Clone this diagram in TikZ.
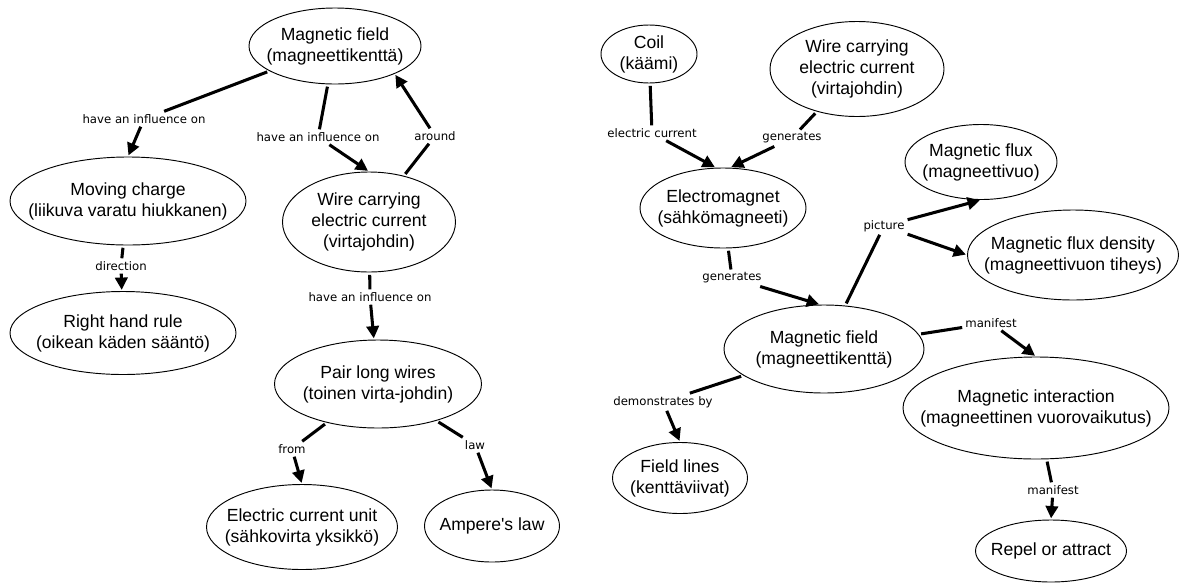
\documentclass[tikz,border=0pt]{standalone}
\usepackage{fontspec}
\setmainfont{Liberation Sans}
\newfontfamily\labelfont{DejaVu Sans}
\usetikzlibrary{shapes.geometric,arrows.meta}

\tikzset{
  concept/.style 2 args={draw, ellipse, line width=0.8pt, align=center,
    inner xsep=-30pt, inner ysep=-8pt, minimum width=#1, minimum height=#2,
    font=\fontsize{15}{18}\selectfont},
  lbl/.style={inner sep=2.5pt, font=\labelfont\fontsize{10}{12}\selectfont},
  link/.style={line width=2.6pt, shorten <=2pt},
  arr/.style={line width=2.6pt, -{Triangle[length=10.5pt,width=10.5pt]}, shorten >=1pt}
}

\begin{document}
\begin{tikzpicture}[x=0.03cm,y=-0.03cm]
  \useasboundingbox (0,0) rectangle (1180,583);
  % left map
  \node[concept={5.16cm}{2.28cm}] (mfA) at (335,46) {Magnetic field\\(magneettikenttä)};
  \node[concept={7.08cm}{2.64cm}] (mc) at (128,201) {Moving charge\\(liikuva varatu hiukkanen)};
  \node[concept={5.19cm}{3.0cm}] (wireA) at (369,222) {Wire carrying\\electric current\\(virtajohdin)};
  \node[concept={6.78cm}{2.49cm}] (rhr) at (123,333) {Right hand rule\\(oikean käden sääntö)};
  \node[concept={6.21cm}{2.64cm}] (pair) at (378,384) {Pair long wires\\(toinen virta-johdin)};
  \node[concept={5.73cm}{2.55cm}] (ecu) at (302,527) {Electric current unit\\(sähkovirta yksikkö)};
  \node[concept={4.05cm}{2.16cm}] (amp) at (492,526) {Ampere\textquotesingle s law};
  \node[lbl] (l1) at (144,119) {have an influence on};
  \node[lbl] (l2) at (318,137) {have an influence on};
  \node[lbl] (l3) at (435,136) {around};
  \node[lbl] (l4) at (121,266) {direction};
  \node[lbl] (l5) at (370,297) {have an influence on};
  \node[lbl] (l6) at (292,449) {from};
  \node[lbl] (l7) at (475,445) {law};
  % right map
  \node[concept={2.88cm}{1.74cm}] (coil) at (649,54) {Coil\\(käämi)};
  \node[concept={5.22cm}{2.85cm}] (wireB) at (857,69) {Wire carrying\\electric current\\(virtajohdin)};
  \node[concept={4.98cm}{2.4cm}] (em) at (723,208) {Electromagnet\\(sähkömagneeti)};
  \node[concept={4.56cm}{2.25cm}] (flux) at (981,162) {Magnetic flux\\(magneettivuo)};
  \node[concept={6.33cm}{2.7cm}] (dens) at (1073,255) {Magnetic flux density\\(magneettivuon tiheys)};
  \node[concept={6.0cm}{2.64cm}] (mfB) at (824,349) {Magnetic field\\(magneettikenttä)};
  \node[concept={4.05cm}{2.13cm}] (fl) at (680,478) {Field lines\\(kenttäviivat)};
  \node[concept={7.98cm}{3.06cm}] (mi) at (1036,408) {Magnetic interaction\\(magneettinen vuorovaikutus)};
  \node[concept={4.53cm}{1.86cm}] (rep) at (1051,551) {Repel or attract};
  \node[lbl] (r1) at (652,133) {electric current};
  \node[lbl] (r2) at (792,138) {generates};
  \node[lbl] (r3) at (732,278) {generates};
  \node[lbl] (r4) at (884,226) {picture};
  \node[lbl] (r5) at (991,323) {manifest};
  \node[lbl] (r6) at (663,402) {demonstrates by};
  \node[lbl] (r7) at (1053,490) {manifest};
  % links
  \foreach \from/\to in {mfA/l1,mfA/l2,wireA.53/l3,mc/l4,wireA/l5,pair/l6,pair/l7,
      coil/r1,wireB/r2,em/r3,mfB/r4,mfB/r5,mfB/r6,mi/r7}
    \draw[link] (\from) -- (\to);
  \foreach \from/\to in {l1/mc.north,l2/wireA.north,l3/mfA.-25,l4/rhr,l5/pair,l6/ecu.north,
      l7/amp.north,r1/em.100,r2/em.80,r3/mfB.95,r4/flux.south,r4/dens.west,r5/mi.north,
      r6/fl.north,r7/rep.north}
    \draw[arr] (\from) -- (\to);
\end{tikzpicture}
\end{document}
